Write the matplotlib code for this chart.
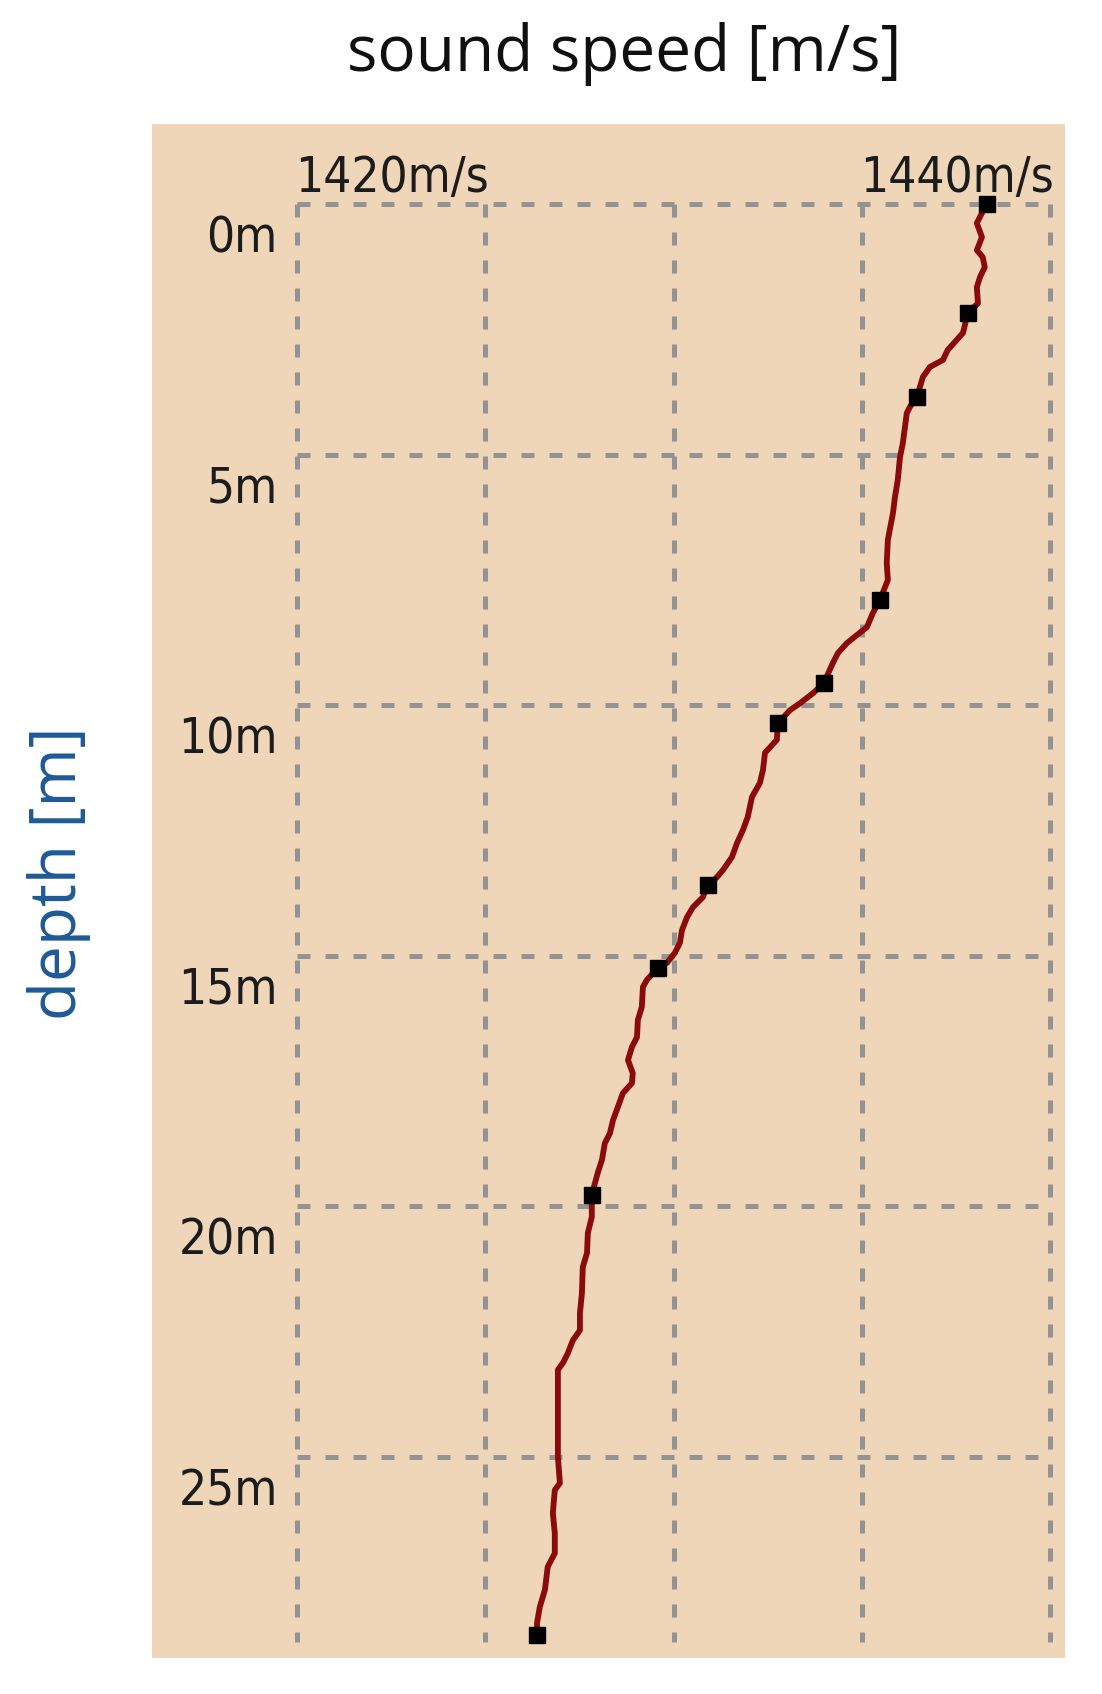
import matplotlib
matplotlib.use('Agg')
import matplotlib.pyplot as plt
from matplotlib import font_manager as fm

# sound speed profile
depth = [0.0, 0.18, 0.38, 0.66, 0.92, 1.06, 1.26, 1.46, 1.66, 1.98,
         2.17, 2.57, 2.91, 3.11, 3.25, 3.45, 3.85, 4.05, 4.17, 4.77,
         5.05, 5.51, 5.85, 6.17, 6.70, 7.16, 7.50, 7.90, 8.16, 8.44,
         8.76, 8.96, 9.16, 9.56, 9.76, 9.96, 10.10, 10.36, 10.69, 10.95,
         11.29, 11.55, 11.83, 12.23, 12.49, 12.75, 13.03, 13.29, 13.43, 13.59,
         13.83, 14.03, 14.23, 14.49, 14.74, 14.94, 15.14, 15.24, 15.48, 15.62,
         16.02, 16.28, 16.62, 16.82, 17.08, 17.34, 17.54, 17.74, 18.02, 18.28,
         18.54, 18.74, 19.07, 19.33, 19.77, 20.21, 20.53, 20.93, 21.21, 21.73,
         22.13, 22.47, 22.67, 22.93, 23.12, 23.26, 23.86, 24.52, 25.00, 25.52,
         25.66, 26.12, 26.52, 26.92, 27.19, 27.65, 27.99, 28.31, 28.55]
speed = [1444.42, 1444.25, 1444.07, 1444.25, 1444.07, 1444.28, 1444.35, 1444.18, 1444.07, 1444.11,
         1443.75, 1443.58, 1443.04, 1442.87, 1442.41, 1442.16, 1441.95, 1441.70, 1441.59, 1441.45,
         1441.35, 1441.27, 1441.17, 1441.10, 1440.92, 1440.88, 1440.92, 1440.64, 1440.39, 1440.18,
         1439.47, 1439.15, 1438.97, 1438.65, 1438.27, 1437.81, 1437.45, 1437.03, 1436.99, 1436.57,
         1436.50, 1436.39, 1436.11, 1435.96, 1435.79, 1435.58, 1435.40, 1435.08, 1434.87, 1434.55,
         1434.37, 1434.02, 1433.81, 1433.63, 1433.56, 1433.38, 1433.10, 1432.78, 1432.39, 1432.25,
         1432.21, 1432.07, 1432.04, 1431.86, 1431.72, 1431.89, 1431.86, 1431.54, 1431.36, 1431.19,
         1431.08, 1430.90, 1430.80, 1430.65, 1430.44, 1430.44, 1430.30, 1430.27, 1430.12, 1430.09,
         1430.02, 1430.02, 1429.77, 1429.59, 1429.42, 1429.24, 1429.24, 1429.24, 1429.24, 1429.31,
         1429.13, 1429.06, 1429.13, 1429.13, 1428.88, 1428.78, 1428.60, 1428.50, 1428.50]

marker_depth = [0.0, 2.17, 3.85, 7.90, 9.56, 10.36, 13.59, 15.24, 19.77, 28.55]
marker_speed = [1444.42, 1443.75, 1441.95, 1440.64, 1438.65, 1437.03, 1434.55, 1432.78, 1430.44, 1428.50]

depth_ticks = [0, 5, 10, 15, 20, 25]
depth_labels = ['0m', '5m', '10m', '15m', '20m', '25m']
speed_grid = [1420, 1426.667, 1433.333, 1440, 1446.667]
speed_ticks = [1420, 1440]
speed_labels = ['1420m/s', '1440m/s']

BG = '#f0d6b8'
GRID = '#939393'
LABEL_FONT = ['Open Sans', 'DejaVu Sans']


def narrow_font():
    # the tick labels are in a tall, narrow bitmap-like face; take the narrowest we have
    fonts = fm.fontManager.ttflist
    for f in fonts:
        if f.name == 'Liberation Sans Narrow' and f.weight in (400, 'normal') and f.style == 'normal':
            return fm.FontProperties(fname=f.fname)
    for f in fonts:
        if 'Condensed' in f.fname and 'DejaVuSans' in f.fname and 'Bold' not in f.fname \
                and 'Oblique' not in f.fname:
            return fm.FontProperties(fname=f.fname)
    return fm.FontProperties(family='DejaVu Sans')


tick_fp = narrow_font()

fig = plt.figure(figsize=(11.02, 16.94), dpi=100)
ax = fig.add_axes([0.1379, 0.02125, 0.8285, 0.9055])
ax.set_facecolor(BG)
ax.set_xlim(1414.87, 1447.19)
ax.set_ylim(29.01, -1.596)
for s in ax.spines.values():
    s.set_visible(False)
ax.set_xticks([])
ax.set_yticks([])

dash = (0, (2.6, 3.0))
ax.hlines(depth_ticks, speed_grid[0], speed_grid[-1], colors=GRID, lw=3.6, linestyles=dash, zorder=1)
ax.vlines(speed_grid, 0, 28.7, colors=GRID, lw=3.6, linestyles=dash, zorder=1)

ax.plot(speed, depth, color='#8b0a0a', lw=4.2, zorder=3)
ax.plot(marker_speed, marker_depth, 's', color='black', ms=11, zorder=4, clip_on=False)

tick_texts = []
for d, lab in zip(depth_ticks, depth_labels):
    t = ax.annotate(lab, xy=(speed_grid[0], d), xytext=(-13.7, -34.6), textcoords='offset points',
                    ha='right', va='baseline', fontproperties=tick_fp, color='#1c1c1c')
    tick_texts.append(t)
for v, lab in zip(speed_ticks, speed_labels):
    t = ax.annotate(lab, xy=(v, 0), xytext=(-1, 8.6), textcoords='offset points',
                    ha='left', va='baseline', fontproperties=tick_fp, color='#1c1c1c')
    tick_texts.append(t)

# size the narrow labels so "1440m/s" is as wide as in the picture (~194 px)
for t in tick_texts:
    t.set_fontsize(40)
fig.canvas.draw()
w = tick_texts[-1].get_window_extent().width
size = 40 * 194 / w
for t in tick_texts:
    t.set_fontsize(size)

fig.text(624 / 1102, 1 - 54 / 1694, 'sound speed [m/s]', ha='center', va='center',
         fontsize=46, family=LABEL_FONT, color='#101010')
fig.text(59 / 1102, 1 - 873 / 1694, 'depth [m]', ha='center', va='center', rotation=90,
         fontsize=46, family=LABEL_FONT, color='#1f5a96')

fig.savefig('out.png', dpi=100, facecolor='white')
